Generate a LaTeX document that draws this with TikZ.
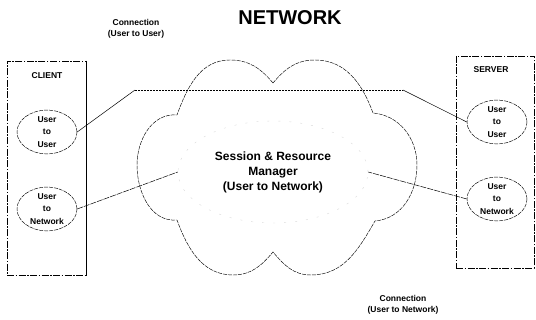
\documentclass[tikz,border=0pt]{standalone}
\usepackage{fontspec}
\setmainfont{Liberation Sans}
\usetikzlibrary{shapes.geometric}
\begin{document}
\begin{tikzpicture}[x=1pt,y=1pt,
    faint/.style={line width=0.45pt,dash pattern=on 4pt off 1pt},
    boxline/.style={line width=0.5pt,dash pattern=on 7pt off 1.5pt on 1.5pt off 1.5pt},
    user/.style={ellipse,draw,faint,minimum width=60pt,minimum height=42pt,
      inner sep=0pt,align=center,font=\fontsize{8.5}{12.5}\selectfont\bfseries},
    caption/.style={align=center,font=\fontsize{8.5}{10.5}\selectfont\bfseries}]
  \useasboundingbox (0,0) rectangle (536,320);
  % titles
  \node (title) at (290,302) {\fontsize{20}{20}\selectfont\bfseries NETWORK};
  \node[caption] (connuu) at (136,291) {Connection\\(User to User)};
  \node[caption] (connun) at (403,15) {Connection\\(User to Network)};
  % client and server
  \node[draw,boxline,minimum width=79pt,minimum height=214pt] (client) at (46.5,152) {};
  \draw[line width=0.8pt] (client.north east) -- (client.south east);
  \node[caption] (clientlbl) at (47,244) {CLIENT};
  \node[user] (cuu) at (47,188) {User\\to\\User};
  \node[user] (cun) at (47,111) {User\\to\\Network};
  \node[draw,boxline,minimum width=78pt,minimum height=212pt] (server) at (495,158) {};
  \node[caption] (serverlbl) at (491,250) {SERVER};
  \node[user] (suu) at (497,198) {User\\to\\User};
  \node[user,minimum height=40pt] (sun) at (497,121) {User\\to\\Network};
  % cloud
  \coordinate (n1) at (273,237);
  \coordinate (n2) at (373,207);
  \coordinate (n3) at (375,99);
  \coordinate (n4) at (273,68);
  \coordinate (n5) at (177,100);
  \coordinate (n6) at (177,205);
  \draw[faint] (n1) to[out=130,in=0] (230,260) to[out=180,in=70] (n6)
    to[out=175,in=90] (137,155) to[out=270,in=185] (n5)
    to[out=290,in=180] (233,45) to[out=0,in=230] (n4)
    to[out=310,in=180] (311,45) to[out=0,in=240] (n3)
    to[out=5,in=270] (417,155) to[out=90,in=355] (n2)
    to[out=110,in=0] (315,260) to[out=180,in=50] (n1);
  \node[ellipse,draw=black!15,dash pattern=on 2pt off 9pt,minimum width=190pt,
    minimum height=102pt,align=center,font=\fontsize{12}{15}\selectfont\bfseries]
    (srm) at (273,148) {Session \& Resource\\Manager\\(User to Network)};
  % connections
  \coordinate (uuL) at (135,230);
  \coordinate (uuR) at (403,230);
  \begin{scope}[line width=0.5pt]
    \draw (cuu.east) -- (uuL);
    \draw[dash pattern=on 1.5pt off 1.5pt] (uuL) -- (uuR);
    \draw (uuR) -- (suu.west);
    \draw[dash pattern=on 6pt off 1pt] (cun.east) -- (srm.west);
    \draw[dash pattern=on 6pt off 1pt] (sun.west) -- (srm.east);
  \end{scope}
\end{tikzpicture}
\end{document}
